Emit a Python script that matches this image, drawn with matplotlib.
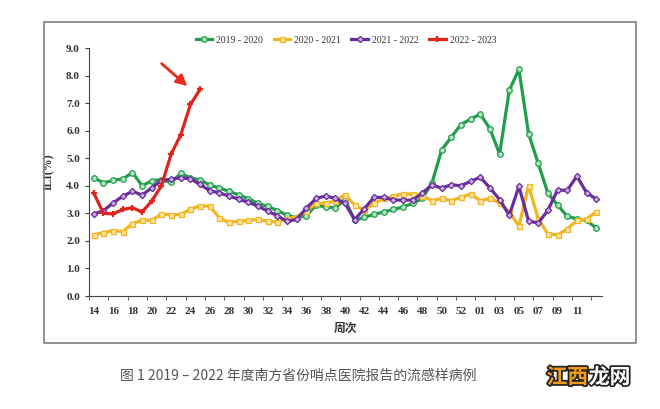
import matplotlib
matplotlib.use('Agg')
import matplotlib.pyplot as plt
import matplotlib.patheffects as pe
from matplotlib.patches import Rectangle
import numpy as np

# weeks on the x axis (2020 had a week 53)
weeks = ['14', '15', '16', '17', '18', '19', '20', '21', '22', '23', '24', '25',
         '26', '27', '28', '29', '30', '31', '32', '33', '34', '35', '36', '37',
         '38', '39', '40', '41', '42', '43', '44', '45', '46', '47', '48', '49',
         '50', '51', '52', '53', '01', '02', '03', '04', '05', '06', '07', '08',
         '09', '10', '11', '12', '13']

ili_2019 = [4.30, 4.10, 4.20, 4.25, 4.48, 4.00, 4.18, 4.22, 4.12, 4.45, 4.28, 4.22,
            4.02, 3.92, 3.80, 3.67, 3.53, 3.36, 3.25, 3.10, 2.93, 2.84, 2.91, 3.30,
            3.23, 3.20, 3.50, 2.74, 2.86, 2.96, 3.05, 3.14, 3.23, 3.36, 3.54, 4.10,
            5.30, 5.77, 6.22, 6.42, 6.60, 6.07, 5.15, 7.46, 8.23, 5.89, 4.81, 3.73,
            3.30, 2.89, 2.80, 2.74, 2.47]
ili_2020 = [2.22, 2.30, 2.37, 2.34, 2.63, 2.75, 2.75, 2.97, 2.94, 2.96, 3.15, 3.27,
            3.26, 2.83, 2.67, 2.71, 2.74, 2.78, 2.71, 2.68, 2.80, 2.88, 3.08, 3.36,
            3.37, 3.45, 3.67, 3.30, 3.11, 3.36, 3.54, 3.63, 3.70, 3.70, 3.63, 3.46,
            3.54, 3.46, 3.58, 3.70, 3.46, 3.54, 3.38, 3.05, 2.54, 4.00, 2.80, 2.25,
            2.22, 2.43, 2.74, 2.80, 3.05]
ili_2021 = [2.97, 3.10, 3.38, 3.62, 3.80, 3.66, 3.93, 4.19, 4.24, 4.29, 4.25, 4.05,
            3.82, 3.74, 3.63, 3.51, 3.40, 3.26, 3.08, 2.91, 2.71, 2.78, 3.19, 3.54,
            3.63, 3.54, 3.36, 2.77, 3.17, 3.58, 3.58, 3.48, 3.48, 3.48, 3.73, 4.04,
            3.91, 4.04, 4.00, 4.16, 4.31, 3.92, 3.50, 2.93, 3.98, 2.72, 2.65, 3.11,
            3.85, 3.83, 4.35, 3.75, 3.52]
ili_2022 = [3.73, 3.00, 2.98, 3.14, 3.20, 3.05, 3.45, 4.00, 5.15, 5.85, 6.95, 7.50]

labels = ['2019 - 2020', '2020 - 2021', '2021 - 2022', '2022 - 2023']
tick_weeks = ['14', '16', '18', '20', '22', '24', '26', '28', '30', '32', '34', '36',
              '38', '40', '42', '44', '46', '48', '50', '52', '01', '03', '05', '07',
              '09', '11']

plt.rcParams['font.family'] = ['Liberation Serif', 'Noto Sans CJK SC']

fig = plt.figure(figsize=(6.6, 4.09), dpi=100)

# grey frame round the chart
fig.patches.append(Rectangle((44 / 660, 1 - 343 / 409), (636 - 44) / 660, (343 - 22) / 409,
                             transform=fig.transFigure, fill=False, ec='#8a8a8a', lw=1.3))

ax = fig.add_axes([89 / 660, 1 - 296 / 409, (602 - 89) / 660, (296 - 48) / 409])

x = np.arange(len(weeks))
styles = [
    (ili_2019, '#1f9e4b', '#b6e3c4', 'o', 4.0),
    (ili_2020, '#f2b51f', '#fbe6a6', 's', 3.6),
    (ili_2021, '#6a2d9d', '#c9b0de', 'D', 3.2),
]
for (vals, c, fc, m, ms), lab in zip(styles, labels):
    ax.plot(x[:len(vals)], vals, color=c, lw=2.3, marker=m, ms=ms, mfc=fc, mec=c,
            mew=0.9, label=lab, zorder=3)
ax.plot(x[:len(ili_2022)], ili_2022, color='#e0231b', lw=2.3, marker='+', ms=5,
        mew=1.6, label=labels[3], zorder=4)

ax.annotate('', xy=(9.9, 7.55), xytext=(6.8, 8.5),
            arrowprops=dict(arrowstyle='-|>', color='#ea2a1a', lw=2, mutation_scale=16))

ax.set_xlim(-0.5, 52.6)
ax.set_ylim(0, 9)
for s in ['top', 'right']:
    ax.spines[s].set_visible(False)
ax.spines['left'].set_bounds(0, 9)
ax.spines['left'].set_color('#444')
ax.spines['bottom'].set_color('#444')

ax.set_yticks(np.arange(0, 10, 1))
ax.set_yticklabels(['%.1f' % v for v in range(10)])
ax.set_xticks([weeks.index(w) for w in tick_weeks])
ax.set_xticklabels(tick_weeks)
ax.set_xticks(np.arange(-0.5, 52, 2), minor=True)
ax.tick_params(axis='x', which='major', length=0, pad=8)
ax.tick_params(axis='x', which='minor', length=3, direction='out', color='#444')
ax.tick_params(axis='y', length=3, direction='out', color='#444')
for t in ax.get_xticklabels() + ax.get_yticklabels():
    t.set_fontsize(8)
    t.set_fontweight('bold')
    t.set_color('#333')

ax.set_ylabel('ILI(%)', fontsize=8.5, fontweight='bold', color='#333', labelpad=8)
ax.set_xlabel('周次', fontsize=8.5, fontweight='bold', color='#333', labelpad=4,
              family='Noto Sans CJK SC')

fig.legend(loc='center', bbox_to_anchor=(0.524, 0.902), ncol=4, frameon=False,
           fontsize=7, handlelength=1.7, columnspacing=1.1, handletextpad=0.4,
           labelcolor='#333')

fig.text(0.182, 1 - 376 / 409, '图 1 2019 – 2022 年度南方省份哨点医院报告的流感样病例',
         family=['Noto Sans CJK SC', 'DejaVu Sans'], fontsize=10, color='#555', va='center')
fig.text(0.828, 1 - 377 / 409, '江西', family='Noto Sans CJK SC', fontsize=15,
         fontweight='bold', color='#f29a1c', va='center',
         path_effects=[pe.withStroke(linewidth=2.5, foreground='#222')])
fig.text(0.892, 1 - 377 / 409, '龙网', family='Noto Sans CJK SC', fontsize=15,
         fontweight='bold', color='white', va='center',
         path_effects=[pe.withStroke(linewidth=2.5, foreground='#222')])

fig.savefig('out.png', dpi=100)
